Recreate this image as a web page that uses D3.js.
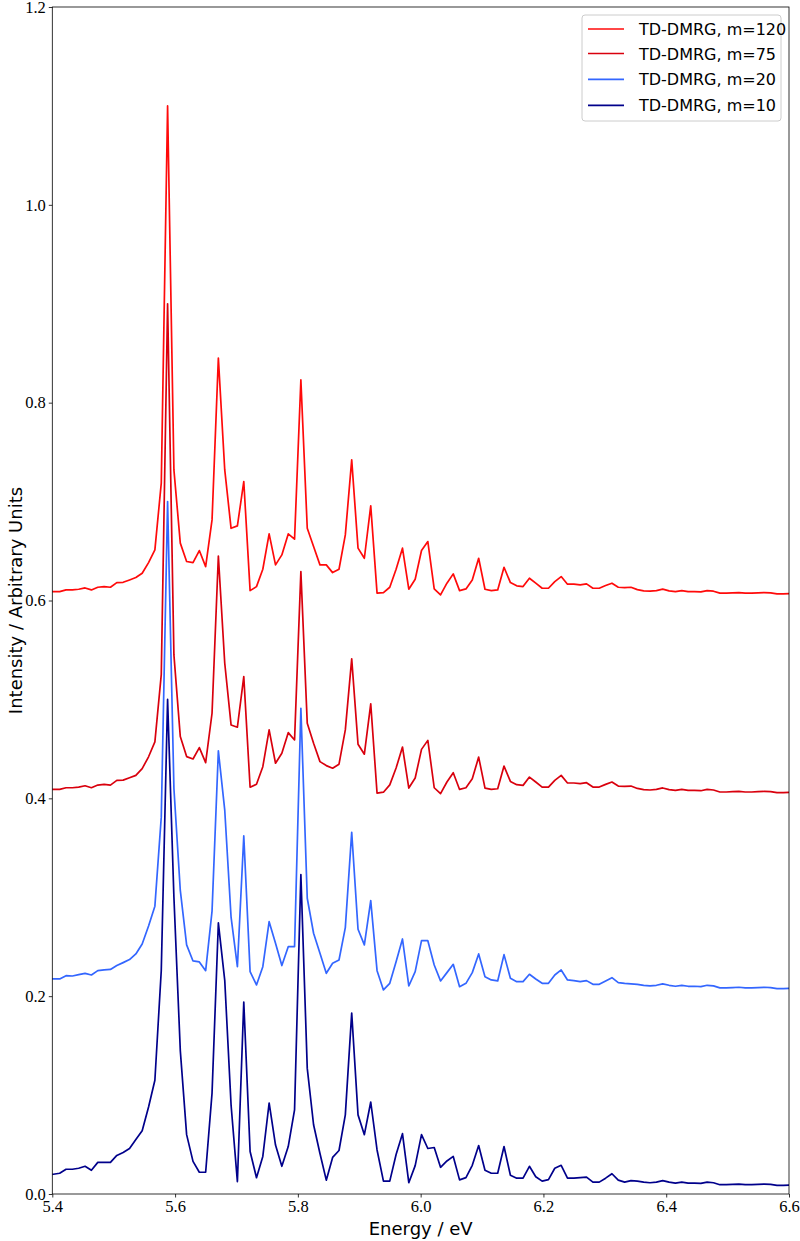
<!DOCTYPE html>
<html>
<head>
<meta charset="utf-8">
<script src="https://cdnjs.cloudflare.com/ajax/libs/d3/7.8.5/d3.min.js"></script>
<style>
  html, body { margin: 0; padding: 0; background: #fff; }
  svg { display: block; }
</style>
</head>
<body>
<svg id="chart" width="800" height="1241"></svg>
<script>
// ---------------- DATA ----------------
const energies = [
  5.3913, 5.4017, 5.4120, 5.4224, 5.4327, 5.4430, 5.4534, 5.4637, 5.4741, 5.4844,
  5.4947, 5.5051, 5.5154, 5.5258, 5.5361, 5.5464, 5.5568, 5.5671, 5.5775, 5.5878,
  5.5981, 5.6085, 5.6188, 5.6292, 5.6395, 5.6498, 5.6602, 5.6705, 5.6809, 5.6912,
  5.7015, 5.7119, 5.7222, 5.7326, 5.7429, 5.7532, 5.7636, 5.7739, 5.7843, 5.7946,
  5.8049, 5.8153, 5.8256, 5.8360, 5.8463, 5.8566, 5.8670, 5.8773, 5.8877, 5.8980,
  5.9083, 5.9187, 5.9290, 5.9394, 5.9497, 5.9600, 5.9704, 5.9807, 5.9911, 6.0014,
  6.0117, 6.0221, 6.0324, 6.0428, 6.0531, 6.0634, 6.0738, 6.0841, 6.0945, 6.1048,
  6.1151, 6.1255, 6.1358, 6.1462, 6.1565, 6.1668, 6.1772, 6.1875, 6.1979, 6.2082,
  6.2185, 6.2289, 6.2392, 6.2496, 6.2599, 6.2702, 6.2806, 6.2909, 6.3013, 6.3116,
  6.3219, 6.3323, 6.3426, 6.3530, 6.3633, 6.3736, 6.3840, 6.3943, 6.4047, 6.4150,
  6.4253, 6.4357, 6.4460, 6.4564, 6.4667, 6.4770, 6.4874, 6.4977, 6.5081, 6.5184,
  6.5287, 6.5391, 6.5494, 6.5598, 6.5701, 6.5804, 6.5908, 6.6011
];

const m120 = [
  0.609, 0.609, 0.609, 0.6107, 0.6107, 0.6114, 0.6127, 0.6107, 0.6134, 0.6141,
  0.6134, 0.6181, 0.6184, 0.6208, 0.6232, 0.6276, 0.6383, 0.6512, 0.7186, 1.100,
  0.732, 0.658, 0.6394, 0.6383, 0.6505, 0.6343, 0.6815, 0.845, 0.732, 0.673,
  0.6754, 0.7203, 0.610, 0.614, 0.6316, 0.6673, 0.636, 0.6461, 0.6673, 0.662,
  0.823, 0.673, 0.6545, 0.636, 0.636, 0.6282, 0.6316, 0.6663, 0.7422, 0.6529,
  0.6427, 0.6957, 0.6074, 0.608, 0.6134, 0.6316, 0.6529, 0.6114, 0.6215, 0.6505,
  0.6596, 0.6117, 0.6057, 0.6175, 0.6269, 0.610, 0.6117, 0.6208, 0.6427, 0.6114,
  0.610, 0.6107, 0.6336, 0.6181, 0.6148, 0.6141, 0.6225, 0.6175, 0.6124, 0.6124,
  0.6191, 0.6242, 0.6165, 0.6165, 0.6158, 0.6168, 0.6124, 0.6124, 0.6151, 0.6175,
  0.6134, 0.613, 0.6134, 0.611, 0.6098, 0.6094, 0.610, 0.6115, 0.6098, 0.609,
  0.610, 0.609, 0.609, 0.6087, 0.610, 0.6094, 0.6074, 0.6074, 0.6077, 0.608,
  0.6074, 0.6074, 0.6077, 0.608, 0.6077, 0.6067, 0.6067, 0.607
];

const m75 = [
  0.409, 0.409, 0.409, 0.4107, 0.4107, 0.4114, 0.4127, 0.4107, 0.4134, 0.4141,
  0.4134, 0.4181, 0.4184, 0.4208, 0.4232, 0.430, 0.442, 0.457, 0.525, 0.900,
  0.545, 0.4624, 0.4422, 0.4398, 0.4513, 0.4361, 0.486, 0.645, 0.5366, 0.4742,
  0.4719, 0.523, 0.4112, 0.4142, 0.432, 0.4692, 0.4355, 0.4456, 0.4664, 0.459,
  0.6292, 0.4759, 0.4557, 0.4371, 0.4331, 0.4304, 0.4345, 0.4692, 0.541, 0.4547,
  0.4446, 0.4955, 0.4052, 0.4062, 0.4136, 0.4306, 0.4519, 0.4104, 0.4205, 0.4495,
  0.4586, 0.4107, 0.4047, 0.4165, 0.4259, 0.409, 0.4107, 0.4198, 0.4417, 0.4104,
  0.409, 0.4097, 0.4326, 0.4171, 0.4138, 0.4131, 0.4215, 0.4165, 0.4114, 0.4114,
  0.4181, 0.4232, 0.4155, 0.4155, 0.4148, 0.4158, 0.4114, 0.4114, 0.4141, 0.4165,
  0.4124, 0.412, 0.4124, 0.410, 0.4088, 0.4084, 0.409, 0.4105, 0.4088, 0.408,
  0.409, 0.408, 0.408, 0.4077, 0.409, 0.4084, 0.4064, 0.4064, 0.4067, 0.407,
  0.4064, 0.4064, 0.4067, 0.407, 0.4067, 0.4057, 0.4057, 0.406
];

const m20 = [
  0.2174, 0.2174, 0.2174, 0.2207, 0.2204, 0.2218, 0.2231, 0.2214, 0.2258, 0.2265,
  0.227, 0.2309, 0.2339, 0.237, 0.2427, 0.2528, 0.271, 0.291, 0.381, 0.700,
  0.41, 0.307, 0.2518, 0.2356, 0.2346, 0.2258, 0.286, 0.448, 0.388, 0.280,
  0.2298, 0.362, 0.2248, 0.2113, 0.2298, 0.2753, 0.2535, 0.2309, 0.250, 0.250,
  0.491, 0.299, 0.2636, 0.2434, 0.2231, 0.2333, 0.2366, 0.2693, 0.3657, 0.2676,
  0.2518, 0.2966, 0.2258, 0.2063, 0.213, 0.2349, 0.2578, 0.2103, 0.2248, 0.2561,
  0.2561, 0.2315, 0.2154, 0.2238, 0.2322, 0.2096, 0.213, 0.2238, 0.2427, 0.2197,
  0.2164, 0.2154, 0.242, 0.2181, 0.2147, 0.2147, 0.2221, 0.2174, 0.213, 0.213,
  0.2214, 0.2265, 0.2164, 0.2157, 0.2147, 0.2157, 0.212, 0.212, 0.2154, 0.2187,
  0.2137, 0.213, 0.2125, 0.212, 0.211, 0.2104, 0.211, 0.2125, 0.211, 0.210,
  0.211, 0.210, 0.210, 0.2097, 0.211, 0.2104, 0.2084, 0.2084, 0.2087, 0.209,
  0.2084, 0.2084, 0.2087, 0.209, 0.2087, 0.2077, 0.2077, 0.208
];

const m10 = [
  0.019, 0.020, 0.021, 0.025, 0.025, 0.026, 0.028, 0.024, 0.032, 0.032,
  0.032, 0.039, 0.042, 0.046, 0.055, 0.064, 0.088, 0.115, 0.226, 0.500,
  0.300, 0.145, 0.060, 0.033, 0.022, 0.022, 0.102, 0.274, 0.216, 0.090,
  0.0125, 0.194, 0.043, 0.0165, 0.038, 0.092, 0.0495, 0.028, 0.048, 0.085,
  0.323, 0.127, 0.070, 0.041, 0.014, 0.037, 0.044, 0.080, 0.183, 0.080,
  0.060, 0.093, 0.0445, 0.013, 0.013, 0.040, 0.061, 0.0114, 0.0287, 0.060,
  0.046, 0.047, 0.027, 0.0334, 0.038, 0.0143, 0.0165, 0.029, 0.049, 0.024,
  0.021, 0.021, 0.048, 0.019, 0.016, 0.016, 0.028, 0.0175, 0.013, 0.0145,
  0.026, 0.029, 0.016, 0.016, 0.0165, 0.017, 0.012, 0.012, 0.016, 0.0205,
  0.014, 0.012, 0.0135, 0.013, 0.012, 0.0114, 0.012, 0.0135, 0.012, 0.011,
  0.012, 0.011, 0.011, 0.0107, 0.012, 0.0114, 0.0094, 0.0094, 0.0097, 0.010,
  0.0094, 0.0094, 0.0097, 0.010, 0.0097, 0.0087, 0.0087, 0.009
];

const seriesLabels = ["TD-DMRG, m=120", "TD-DMRG, m=75", "TD-DMRG, m=20", "TD-DMRG, m=10"];
const seriesValues = [m120, m75, m20, m10];
const seriesColors = ["#ff0a0a", "#d9000d", "#3366ff", "#00008b"];

const xTicks = [5.4, 5.6, 5.8, 6.0, 6.2, 6.4, 6.6];
const yTicks = [0.0, 0.2, 0.4, 0.6, 0.8, 1.0, 1.2];
const xLabel = "Energy / eV";
const yLabel = "Intensity / Arbitrary Units";

// ---------------- LAYOUT ----------------
const svg = d3.select("#chart");
const L = 52.3, R = 789, T = 7, B = 1194;

const x = d3.scaleLinear().domain([5.4, 6.6]).range([L, R]);
const y = d3.scaleLinear().domain([0, 1.2]).range([B, T]);

svg.append("defs").append("clipPath").attr("id", "plotclip")
  .append("rect").attr("x", L).attr("y", T).attr("width", R - L).attr("height", B - T);

const serif = "'Liberation Serif', 'DejaVu Serif', serif";
const sans = "'DejaVu Sans', 'Liberation Sans', sans-serif";

// lines
const line = d3.line().x((d, i) => x(energies[i])).y(d => y(d));
const plot = svg.append("g").attr("clip-path", "url(#plotclip)");
seriesValues.forEach((vals, k) => {
  plot.append("path")
    .datum(vals)
    .attr("d", line)
    .attr("fill", "none")
    .attr("stroke", seriesColors[k])
    .attr("stroke-width", 1.7)
    .attr("stroke-linejoin", "round");
});

// axes
const xAxis = d3.axisBottom(x).tickValues(xTicks).tickFormat(d3.format(".1f")).tickSizeOuter(0).tickSize(3.5).tickPadding(3);
const yAxis = d3.axisLeft(y).tickValues(yTicks).tickFormat(d3.format(".1f")).tickSizeOuter(0).tickSize(3.5).tickPadding(3);

const gx = svg.append("g").attr("transform", `translate(0,${B})`).call(xAxis);
const gy = svg.append("g").attr("transform", `translate(${L},0)`).call(yAxis);
[gx, gy].forEach(g => {
  g.select(".domain").remove();
  g.selectAll(".tick line").attr("stroke", "#000").attr("stroke-width", 0.8);
  g.selectAll(".tick text").attr("font-family", serif).attr("font-size", 16.5).attr("fill", "#000");
});

// frame
svg.append("rect").attr("x", L).attr("y", T).attr("width", R - L).attr("height", B - T)
  .attr("fill", "none").attr("stroke", "#000").attr("stroke-width", 0.8);

// axis labels
svg.append("text").attr("x", (L + R) / 2).attr("y", 1235)
  .attr("text-anchor", "middle").attr("font-family", sans).attr("font-size", 18)
  .text(xLabel);
svg.append("text").attr("transform", `translate(22,${(T + B) / 2}) rotate(-90)`)
  .attr("text-anchor", "middle").attr("font-family", sans).attr("font-size", 18)
  .text(yLabel);

// legend
const lg = svg.append("g");
lg.append("rect").attr("x", 582).attr("y", 15).attr("width", 199).attr("height", 106)
  .attr("rx", 3).attr("fill", "#fff").attr("fill-opacity", 0.8)
  .attr("stroke", "#cccccc").attr("stroke-width", 1);
const rowY = [29, 53.5, 79.3, 105.3];
seriesLabels.forEach((lab, k) => {
  lg.append("line").attr("x1", 588).attr("x2", 624).attr("y1", rowY[k]).attr("y2", rowY[k])
    .attr("stroke", seriesColors[k]).attr("stroke-width", 1.7);
  lg.append("text").attr("x", 639).attr("y", rowY[k] + 6)
    .attr("font-family", sans).attr("font-size", 16).text(lab);
});
</script>
</body>
</html>
